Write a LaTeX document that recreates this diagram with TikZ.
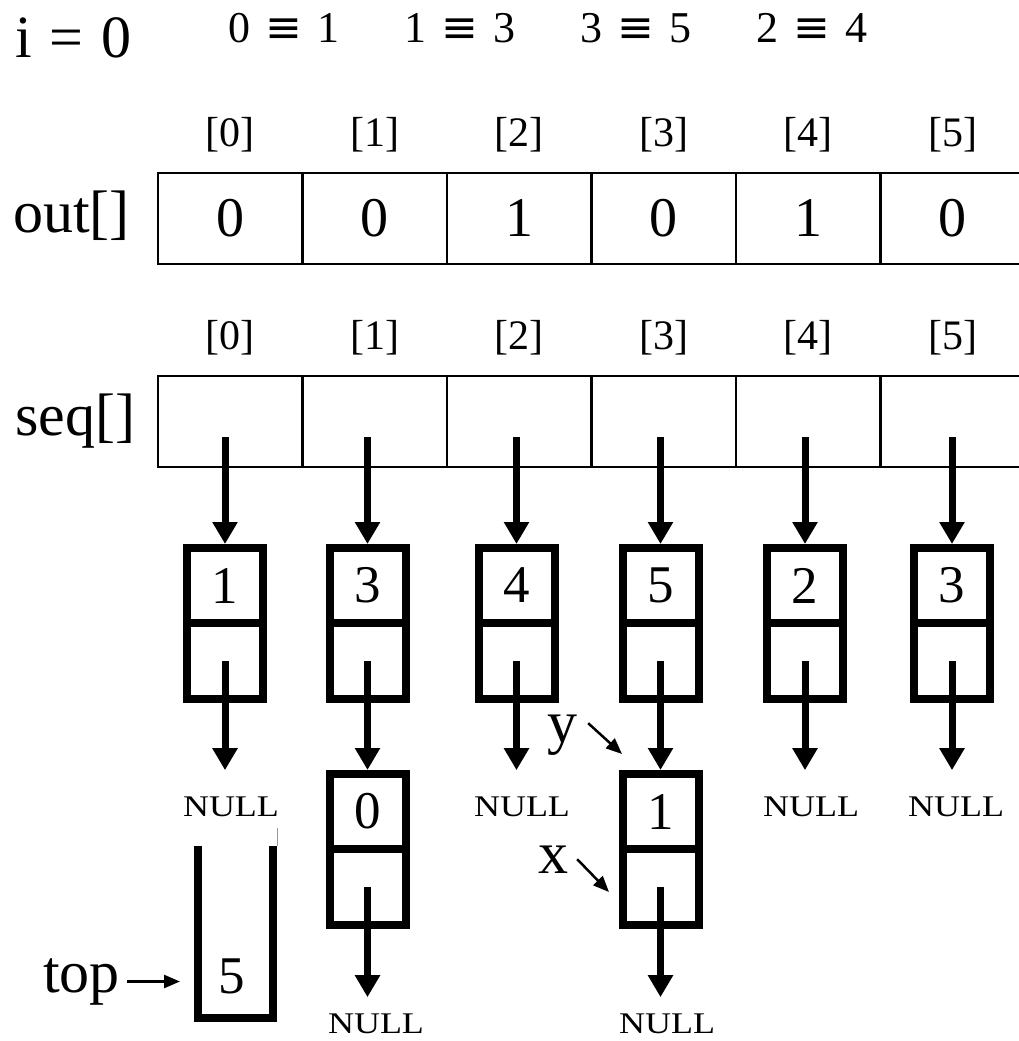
\documentclass[tikz,border=0pt]{standalone}
\usepackage{fontspec}
\setmainfont{Liberation Serif}
\newfontfamily\symfont{DejaVu Sans}
\usetikzlibrary{arrows.meta}
\newcommand{\eqv}[2]{#1\hspace{0.35em}{\symfont ≡}\hspace{0.35em}#2}
\begin{document}
\begin{tikzpicture}[x=1pt,y=-1pt,
  fs/.style={font=\fontsize{#1}{#1}\selectfont},
  lbl/.style={fs=60, inner sep=0, anchor=base},
  idx/.style={fs=42, inner sep=0, anchor=base},
  eqn/.style={fs=44, inner sep=0, anchor=base},
  cell/.style={draw, line width=2.5pt, minimum width=144.5pt, minimum height=91pt, inner sep=0, outer sep=0, fs=56},
  ldata/.style={draw, line width=8pt, minimum width=76pt, minimum height=75pt, inner sep=0, fs=53},
  lnext/.style={draw, line width=8pt, minimum width=76pt, minimum height=76pt, inner sep=0},
  ptr/.style={line width=7pt, -{Triangle[width=24pt,length=22pt]}},
  nul/.style={fs=30, inner sep=0, anchor=base},
  sarr/.style={line width=2.5pt, -{Triangle[width=13pt,length=16pt]}},
]
\fill[white] (0,0) rectangle (1019,1041);
\useasboundingbox (0,0) rectangle (1019,1041);

% header
\node[lbl, anchor=base west] (ilab) at (15,58) {i\hspace{0.3em}=\hspace{0.3em}0};
\node[eqn] (e1) at (284,43) {\eqv{0}{1}};
\node[eqn] (e2) at (460,43) {\eqv{1}{3}};
\node[eqn] (e3) at (636,43) {\eqv{3}{5}};
\node[eqn] (e4) at (812,43) {\eqv{2}{4}};

% arrays
\node[lbl, anchor=base west] (outlab) at (13,232) {out[]};
\node[lbl, anchor=base west] (seqlab) at (15,435) {seq[]};
\foreach \i/\v in {0/0,1/0,2/1,3/0,4/1,5/0} {
  \node[cell] (o\i) at (230.25+144.5*\i, 218.5) {\v};
  \node[idx] (oi\i) at (230.25+144.5*\i, 146) {[\i]};
  \node[cell] (s\i) at (230.25+144.5*\i, 421.5) {};
  \node[idx] (si\i) at (230.25+144.5*\i, 349) {[\i]};
}

% first-level list nodes
\foreach \i/\x/\v in {0/225/1, 1/367.5/3, 2/516.5/4, 3/660.5/5, 4/805/2, 5/952/3} {
  \node[ldata] (d\i) at (\x,585.5) {\v};
  \node[lnext] (n\i) at (\x,661) {};
  \coordinate (p\i) at (\x,437);
  \draw[ptr] (p\i) -- (d\i.north);
}

% second-level list nodes
\node[ldata] (d1b) at (367.5,811.5) {0};
\node[lnext] (n1b) at (367.5,886.5) {};
\node[ldata] (d3b) at (660.5,811.5) {1};
\node[lnext] (n3b) at (660.5,886.5) {};
\draw[ptr] (n1.center) -- (d1b.north);
\draw[ptr] (n3.center) -- (d3b.north);

% NULLs
\node[nul] (null0) at (231,816) {\scalebox{1.2}[1]{NULL}};
\node[nul] (null2) at (522,816) {\scalebox{1.2}[1]{NULL}};
\node[nul] (null4) at (811,816) {\scalebox{1.2}[1]{NULL}};
\node[nul] (null5) at (956,816) {\scalebox{1.2}[1]{NULL}};
\node[nul] (nullb1) at (376,1033) {\scalebox{1.2}[1]{NULL}};
\node[nul] (nullb3) at (667,1033) {\scalebox{1.2}[1]{NULL}};
\draw[ptr, shorten >=26pt] (n0.center) -- (n0.center |- null0.north);
\draw[ptr, shorten >=26pt] (n2.center) -- (n2.center |- null2.north);
\draw[ptr, shorten >=26pt] (n4.center) -- (n4.center |- null4.north);
\draw[ptr, shorten >=26pt] (n5.center) -- (n5.center |- null5.north);
\draw[ptr, shorten >=16pt] (n1b.center) -- (n1b.center |- nullb1.north);
\draw[ptr, shorten >=16pt] (n3b.center) -- (n3b.center |- nullb3.north);

% stack
\draw[line width=8pt] (198,846) -- (198,1018) -- (273,1018) -- (273,846);
\draw[line width=1pt, black!40] (277,828) -- (277,846);
\node[fs=53, inner sep=0] (stk5) at (232,976.5) {5};
\node[lbl, anchor=base west] (toplab) at (43,992) {top};
\coordinate (stkin) at (180,981);
\draw[sarr] ([xshift=7pt]toplab.east) -- (toplab.east -| stkin);

% y and x
\node[lbl] (ylab) at (562,742) {y};
\coordinate (ytip) at (622,754);
\draw[sarr] ([shift={(11,-11.5)}]ylab.east) -- (ytip);
\node[lbl] (xlab) at (553,873) {x};
\coordinate (xtip) at (609,892);
\draw[sarr] ([shift={(9,0)}]xlab.east) -- (xtip);
\end{tikzpicture}
\end{document}
